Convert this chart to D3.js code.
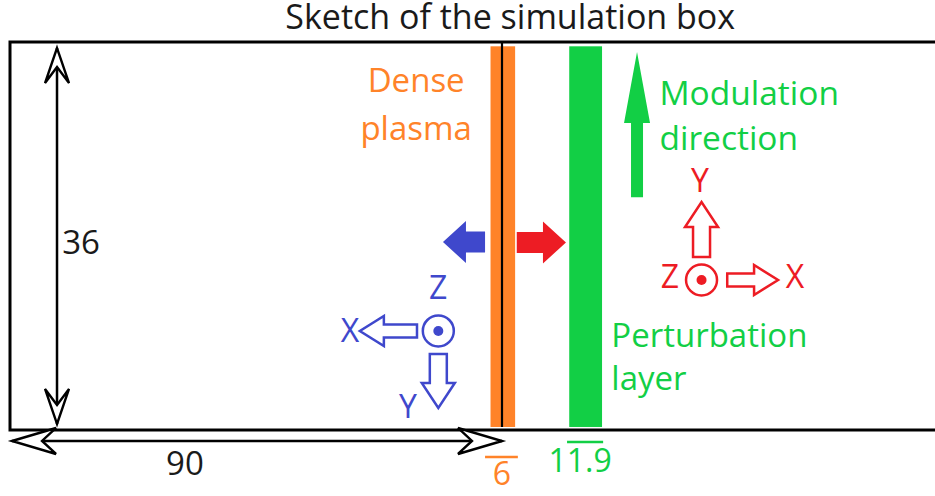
<!DOCTYPE html>
<html>
<head>
<meta charset="utf-8">
<script src="https://cdn.jsdelivr.net/npm/d3@7"></script>
<style>
    body { margin: 0; background: white; font-family: "Open Sans", sans-serif; }
    svg { display: block; }
</style>
</head>
<body>
<div class="mainView"></div>
<script>
    // diagram units: x along the box (0 = left wall), y across it (0 = bottom wall)
    let boxSize = [200, 36];
    let dimLabels = ["90", "36"];

    // layers: name lines, colour, x start/end, thickness label
    let layerNames = [["Dense", "plasma"], ["Perturbation", "layer"]];
    let layerColors = ["#ff8329", "#12cf45"];
    let layerX = [[87.9, 92.4], [102.3, 108.3]];
    let layerLabelX = [74.3, 110.0];
    let layerLabelY = [[31.36, 26.9], [7.7, 3.71]];
    let layerAnchor = ["middle", "start"];
    let thickLabels = ["6", "11.9"];
    let thickLabelX = [90, 104.3];
    let thickLabelY = [-5.1, -3.9];
    let thickBarY = [-2.5, -1.11];
    let thickBarX = [[86.9, 92.9], [101.9, 108.5]];

    // modulation direction
    let modLines = ["Modulation", "direction"];
    let modLineY = [30.16, 25.98];
    let modTextX = 118.8;
    let modArrow = { x: 114.7, tail: 21.6, tip: 35.07 };

    // laser / reflected fat arrows
    let fatArrows = [
        { color: "#3f48cc", tail: 86.9, tip: 79.2, y: 17.44 },
        { color: "#ed1c24", tail: 92.7, tip: 101.7, y: 17.4 }
    ];

    // coordinate frames: origin, axis arrows (tail/tip), label positions
    let frames = [
        { color: "#3f48cc", cx: 78.35, cy: 9.19,
          xArrow: [74.45, 64.0], yArrow: [7.05, 2.04],
          labels: [["X", 62.2, 8.16], ["Y", 72.8, 1.11], ["Z", 78.3, 12.15]] },
        { color: "#ed1c24", cx: 126.5, cy: 13.92,
          xArrow: [131.2, 140.5], yArrow: [16.05, 21.15],
          labels: [["X", 143.6, 13.18], ["Y", 126.2, 22.08], ["Z", 120.7, 13.18]] }
    ];

    let title = "Sketch of the simulation box";

    function getConfig() {
        let width = 935, height = 496;
        let svg = d3.select(".mainView").append("svg")
            .attr("width", width).attr("height", height);
        let x = d3.scaleLinear().domain([0, 90]).range([10, 502]);
        let y = d3.scaleLinear().domain([0, 36]).range([430, 42]);
        return { svg, x, y };
    }

    // solid / hollow block arrow from (x0,y0) to (x1,y1) in pixels
    function blockArrow(x0, y0, x1, y1, shaft, head, headLen) {
        let len = Math.hypot(x1 - x0, y1 - y0);
        let dx = (x1 - x0) / len, dy = (y1 - y0) / len;
        let nx = -dy, ny = dx;
        let bx = x1 - dx * headLen, by = y1 - dy * headLen;
        let pts = [
            [x0 + nx * shaft, y0 + ny * shaft],
            [bx + nx * shaft, by + ny * shaft],
            [bx + nx * head, by + ny * head],
            [x1, y1],
            [bx - nx * head, by - ny * head],
            [bx - nx * shaft, by - ny * shaft],
            [x0 - nx * shaft, y0 - ny * shaft]
        ];
        return "M" + pts.join("L") + "Z";
    }

    // open chevron arrow head at (tx,ty) pointing along (dx,dy)
    function chevron(tx, ty, dx, dy, L, W, N) {
        let nx = -dy, ny = dx;
        let pts = [
            [tx, ty],
            [tx - dx * L + nx * W, ty - dy * L + ny * W],
            [tx - dx * N, ty - dy * N],
            [tx - dx * L - nx * W, ty - dy * L - ny * W]
        ];
        return "M" + pts.join("L") + "Z";
    }

    function drawBox(cfg) {
        let { svg, x, y } = cfg;
        svg.append("text")
            .attr("x", x(91.5)).attr("y", y(37.2))
            .attr("text-anchor", "middle")
            .style("font-size", "34px").style("fill", "#1a1a1a")
            .text(title);
        svg.append("rect")
            .attr("x", x(0)).attr("y", y(boxSize[1]))
            .attr("width", x(boxSize[0]) - x(0))
            .attr("height", y(0) - y(boxSize[1]))
            .attr("fill", "none").attr("stroke", "black").attr("stroke-width", 3);
    }

    function drawLayers(cfg) {
        let { svg, x, y } = cfg;
        layerX.forEach((d, i) => {
            svg.append("rect")
                .attr("x", x(d[0])).attr("y", y(35.6))
                .attr("width", x(d[1]) - x(d[0]))
                .attr("height", y(0.28) - y(35.6))
                .attr("fill", layerColors[i]);
            layerNames[i].forEach((line, j) => {
                svg.append("text")
                    .attr("x", x(layerLabelX[i])).attr("y", y(layerLabelY[i][j]))
                    .attr("text-anchor", layerAnchor[i])
                    .style("font-size", "33px").style("fill", layerColors[i])
                    .text(line);
            });
            svg.append("line")
                .attr("x1", x(thickBarX[i][0])).attr("x2", x(thickBarX[i][1]))
                .attr("y1", y(thickBarY[i])).attr("y2", y(thickBarY[i]))
                .attr("stroke", layerColors[i]).attr("stroke-width", 2.5);
            svg.append("text")
                .attr("x", x(thickLabelX[i])).attr("y", y(thickLabelY[i]))
                .attr("text-anchor", "middle")
                .style("font-size", "32px").style("fill", layerColors[i])
                .text(thickLabels[i]);
        });
        // interface line
        svg.append("line")
            .attr("x1", x(90)).attr("x2", x(90))
            .attr("y1", y(36)).attr("y2", y(0.28))
            .attr("stroke", "black").attr("stroke-width", 2.2);
    }

    function drawDimensions(cfg) {
        let { svg, x, y } = cfg;
        // horizontal 90
        let hy = y(-1.02);
        svg.append("line")
            .attr("x1", x(0.37)).attr("x2", x(90))
            .attr("y1", hy).attr("y2", hy)
            .attr("stroke", "black").attr("stroke-width", 2.5);
        [[x(0.37), -1], [x(90), 1]].forEach(([tx, dir]) => {
            svg.append("path").attr("d", chevron(tx, hy, dir, 0, 44, 13, 30))
                .attr("fill", "white").attr("stroke", "black").attr("stroke-width", 2.4);
        });
        svg.append("text")
            .attr("x", x(32)).attr("y", y(-4.18))
            .attr("text-anchor", "middle")
            .style("font-size", "33px").style("fill", "#1a1a1a")
            .text(dimLabels[0]);
        // vertical 36
        let vx = x(8.6);
        svg.append("line")
            .attr("x1", vx).attr("x2", vx)
            .attr("y1", y(35.44)).attr("y2", y(0.56))
            .attr("stroke", "black").attr("stroke-width", 2.5);
        [[y(35.44), -1], [y(0.56), 1]].forEach(([ty, dir]) => {
            svg.append("path").attr("d", chevron(vx, ty, 0, dir, 35, 12, 19))
                .attr("fill", "white").attr("stroke", "black").attr("stroke-width", 2.4);
        });
        svg.append("text")
            .attr("x", x(13)).attr("y", y(16.33))
            .attr("text-anchor", "middle")
            .style("font-size", "33px").style("fill", "#1a1a1a")
            .text(dimLabels[1]);
    }

    function drawArrows(cfg) {
        let { svg, x, y } = cfg;
        // modulation direction
        svg.append("path")
            .attr("d", blockArrow(x(modArrow.x), y(modArrow.tail), x(modArrow.x), y(modArrow.tip), 6, 13, 71))
            .attr("fill", layerColors[1]);
        modLines.forEach((line, j) => {
            svg.append("text")
                .attr("x", x(modTextX)).attr("y", y(modLineY[j]))
                .style("font-size", "33.5px").style("fill", layerColors[1])
                .text(line);
        });
        fatArrows.forEach(a => {
            svg.append("path")
                .attr("d", blockArrow(x(a.tail), y(a.y), x(a.tip), y(a.y), 10.5, 21, 23))
                .attr("fill", a.color);
        });
    }

    function drawFrames(cfg) {
        let { svg, x, y } = cfg;
        frames.forEach(f => {
            let cx = x(f.cx), cy = y(f.cy);
            svg.append("path")
                .attr("d", blockArrow(x(f.xArrow[0]), cy, x(f.xArrow[1]), cy, 6.5, 15, 24))
                .attr("fill", "white").attr("stroke", f.color).attr("stroke-width", 2.5);
            svg.append("path")
                .attr("d", blockArrow(cx, y(f.yArrow[0]), cx, y(f.yArrow[1]), 8.5, 16.5, 25))
                .attr("fill", "white").attr("stroke", f.color).attr("stroke-width", 2.5);
            svg.append("circle")
                .attr("cx", cx).attr("cy", cy).attr("r", 15.5)
                .attr("fill", "white").attr("stroke", f.color).attr("stroke-width", 2.5);
            svg.append("circle")
                .attr("cx", cx).attr("cy", cy).attr("r", 5)
                .attr("fill", f.color);
            f.labels.forEach(([t, lx, ly]) => {
                svg.append("text")
                    .attr("x", x(lx)).attr("y", y(ly))
                    .attr("text-anchor", "middle")
                    .style("font-size", "32px").style("fill", f.color)
                    .text(t);
            });
        });
    }

    let cfg = getConfig();
    drawBox(cfg);
    drawLayers(cfg);
    drawDimensions(cfg);
    drawArrows(cfg);
    drawFrames(cfg);
</script>
</body>
</html>
